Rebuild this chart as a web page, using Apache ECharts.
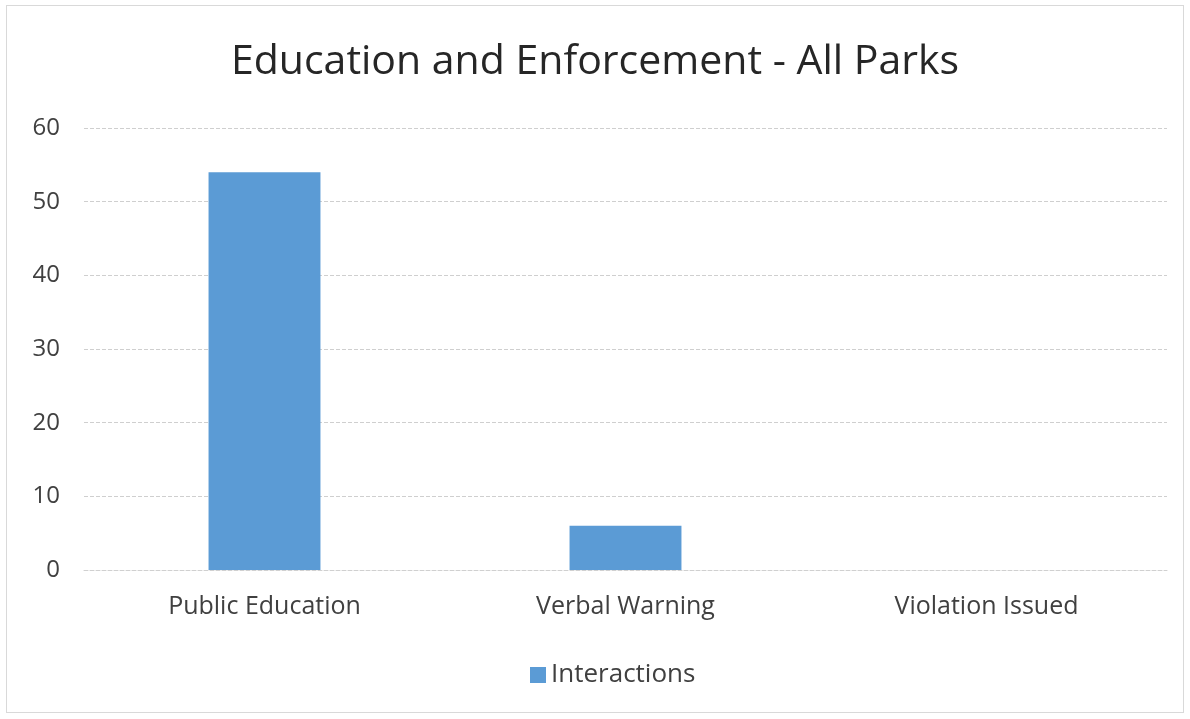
<!DOCTYPE html>
<html>
<head>
<meta charset="utf-8">
<script src="https://cdn.jsdelivr.net/npm/echarts@6/dist/echarts.min.js"></script>
<style>
    html, body { margin: 0; padding: 0; background: #fff; }
    #wrap { position: absolute; left: 6px; top: 5px; width: 1178px; height: 708px; border: 1px solid #d9d9d9; box-sizing: border-box; }
    #chart { width: 1190px; height: 719px; position: absolute; left: 0; top: 0; }
</style>
</head>
<body>
<div id="wrap"></div>
<div id="chart"></div>
<script>
const categories = ['Public Education', 'Verbal Warning', 'Violation Issued'];
const interactions = [54, 6, 0];
const yTicks = [0, 10, 20, 30, 40, 50, 60];

const myChart = echarts.init(document.getElementById('chart'));
const option = {
    color: ['#5b9bd5'],
    title: {
        text: 'Education and Enforcement - All Parks',
        left: 'center',
        top: 37,
        textStyle: { fontFamily: 'Open Sans', fontSize: 41, fontWeight: 'normal', color: '#262626' }
    },
    legend: {
        bottom: 26,
        left: 525,
        icon: 'rect',
        itemWidth: 16,
        itemHeight: 16,
        itemGap: 8,
        textStyle: { fontFamily: 'Open Sans', fontSize: 26, color: '#404040' },
        data: ['Interactions']
    },
    grid: { left: 84, right: 23, top: 128, bottom: 149 },
    xAxis: {
        type: 'category',
        data: categories,
        axisTick: { show: false },
        axisLine: { lineStyle: { color: '#d0d0d0', type: 'dashed' } },
        axisLabel: { fontFamily: 'Open Sans', fontSize: 25, color: '#404040', margin: 24 }
    },
    yAxis: {
        type: 'value',
        min: yTicks[0],
        max: yTicks[yTicks.length - 1],
        interval: 10,
        axisLine: { show: false },
        axisTick: { show: false },
        axisLabel: { fontFamily: 'Open Sans', fontSize: 24, color: '#404040', margin: 24 },
        splitLine: { lineStyle: { color: '#cfcfcf', type: 'dashed' } }
    },
    series: [{
        name: 'Interactions',
        type: 'bar',
        barWidth: '31%',
        data: interactions
    }]
};
myChart.setOption(option);
</script>
</body>
</html>
